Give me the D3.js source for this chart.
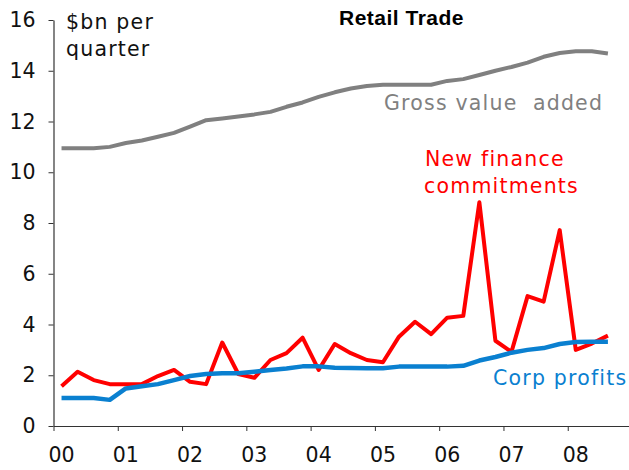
<!DOCTYPE html>
<html>
<head>
<meta charset="utf-8">
<script src="https://cdn.jsdelivr.net/npm/d3@7"></script>
<style>
  body { margin: 0; background: #fff; }
  svg { display: block; }
  .axis path, .axis line { stroke: #333; }
  .axis text { font-family: "DejaVu Sans", Verdana, sans-serif; font-size: 20.5px; fill: #111; }
  .lbl { font-family: "DejaVu Sans", Verdana, sans-serif; font-size: 20.5px; letter-spacing: 1.2px; }
</style>
</head>
<body>
<div id="chart"></div>
<script>
// categories
var years = ["00", "01", "02", "03", "04", "05", "06", "07", "08"];
var quarterNames = ["Q1", "Q2", "Q3", "Q4"];
var yTicks = [0, 2, 4, 6, 8, 10, 12, 14, 16];

// series, $bn per quarter, 2000Q1 .. 2008Q3
var grossValueAdded = [10.95, 10.95, 10.95, 11.0, 11.15, 11.25, 11.4, 11.55, 11.8, 12.05,
    12.12, 12.2, 12.28, 12.38, 12.58, 12.75, 12.97, 13.15, 13.3, 13.4,
    13.45, 13.45, 13.45, 13.45, 13.6, 13.67, 13.83, 14.0, 14.15, 14.32,
    14.55, 14.7, 14.77, 14.77, 14.68];
var newFinance = [1.57, 2.14, 1.81, 1.65, 1.65, 1.65, 1.97, 2.21, 1.74, 1.65,
    3.29, 2.05, 1.9, 2.6, 2.87, 3.48, 2.21, 3.23, 2.87, 2.6,
    2.51, 3.52, 4.11, 3.62, 4.27, 4.34, 8.82, 3.36, 2.92, 5.12,
    4.9, 7.72, 3.0, 3.25, 3.56];
var corpProfits = [1.1, 1.1, 1.1, 1.03, 1.48, 1.57, 1.65, 1.81, 1.97, 2.05,
    2.08, 2.08, 2.14, 2.21, 2.27, 2.35, 2.35, 2.3, 2.29, 2.28,
    2.28, 2.34, 2.34, 2.34, 2.34, 2.37, 2.58, 2.72, 2.89, 3.0,
    3.07, 3.23, 3.31, 3.32, 3.32];

var quarters = [];
years.concat(["09"]).slice(0, 9).forEach(function(yr) {
    quarterNames.forEach(function(q) { quarters.push(yr + q); });
});

var width = 629, height = 470;
var margin = { top: 20, left: 53.5, bottom: 44 };

var svg = d3.select("#chart").append("svg")
    .attr("width", width)
    .attr("height", height);

var x = d3.scaleBand()
    .domain(quarters)
    .range([margin.left, margin.left + 16.07 * quarters.length])
    .padding(0);

var xYears = d3.scaleLinear()
    .domain([0, years.length])
    .range([margin.left, margin.left + 16.07 * quarters.length]);

var y = d3.scaleLinear()
    .domain([0, 16])
    .range([height - margin.bottom, margin.top]);

var xc = function(i) { return x(quarters[i]) + x.bandwidth() / 2; };

// y axis
svg.append("g")
    .attr("class", "axis")
    .attr("transform", "translate(" + margin.left + ",0)")
    .call(d3.axisLeft(y).tickValues(yTicks).tickSize(5).tickSizeOuter(0).tickPadding(13))
    .select(".domain").attr("stroke-width", 1.2);

// x axis tick marks at year boundaries
svg.append("g")
    .attr("class", "axis")
    .attr("transform", "translate(0," + y(0) + ")")
    .call(d3.axisBottom(xYears).ticks(years.length).tickSize(5).tickSizeOuter(0).tickFormat(""))
    .select(".domain").attr("stroke-width", 1.2);

// year labels under the first quarter of each year
svg.append("g")
    .attr("class", "axis")
    .attr("transform", "translate(0," + y(0) + ")")
    .call(d3.axisBottom(x)
        .tickValues(years.map(function(yr) { return yr + "Q1"; }))
        .tickSize(0).tickPadding(21)
        .tickFormat(function(d) { return d.slice(0, 2); }))
    .call(function(g) { g.select(".domain").remove(); });

var line = d3.line()
    .x(function(d, i) { return xc(i); })
    .y(function(d) { return y(d); });

svg.append("path")
    .datum(grossValueAdded)
    .attr("fill", "none")
    .attr("stroke", "#808080")
    .attr("stroke-width", 4)
    .attr("stroke-linejoin", "round")
    .attr("d", line);

svg.append("path")
    .datum(newFinance)
    .attr("fill", "none")
    .attr("stroke", "#ff0000")
    .attr("stroke-width", 4)
    .attr("stroke-linejoin", "round")
    .attr("d", line);

svg.append("path")
    .datum(corpProfits)
    .attr("fill", "none")
    .attr("stroke", "#0a80d0")
    .attr("stroke-width", 4.5)
    .attr("stroke-linejoin", "round")
    .attr("d", line);

// title and labels
svg.append("text")
    .attr("x", 339).attr("y", 25)
    .attr("font-family", "'Liberation Sans', Arial, sans-serif")
    .attr("font-weight", "bold")
    .attr("font-size", "21px")
    .attr("letter-spacing", "0.5px")
    .attr("fill", "#000")
    .text("Retail Trade");

svg.append("text").attr("class", "lbl")
    .attr("x", 66).attr("y", 29).attr("fill", "#111").text("$bn per");
svg.append("text").attr("class", "lbl")
    .attr("x", 66).attr("y", 56).attr("fill", "#111").text("quarter");

svg.append("text").attr("class", "lbl")
    .attr("x", 384).attr("y", 110).attr("fill", "#808080")
    .attr("xml:space", "preserve").style("white-space", "pre")
    .text("Gross value  added");

svg.append("text").attr("class", "lbl")
    .attr("x", 425).attr("y", 166).attr("fill", "#ff0000").text("New finance");
svg.append("text").attr("class", "lbl")
    .attr("x", 424).attr("y", 193).attr("fill", "#ff0000").text("commitments");

svg.append("text").attr("class", "lbl")
    .attr("x", 493).attr("y", 385).attr("fill", "#0a80d0").text("Corp profits");
</script>
</body>
</html>
